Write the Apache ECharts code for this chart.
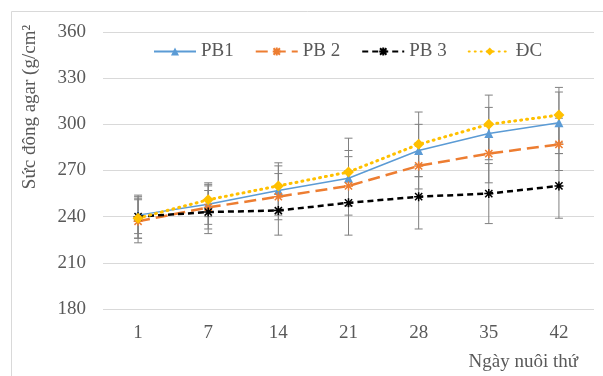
<!DOCTYPE html>
<html>
<head>
<meta charset="utf-8">
<script src="https://cdn.jsdelivr.net/npm/echarts@6/dist/echarts.min.js"></script>
<style>
  html, body { margin: 0; padding: 0; background: #fff; }
  #chart { width: 603px; height: 376px; }
</style>
</head>
<body>
<div id="chart"></div>
<script>
var days = ['1', '7', '14', '21', '28', '35', '42'];
var yTicks = [180, 210, 240, 270, 300, 330, 360];

var pb1 = [241, 248, 257, 265, 283, 294, 301];
var pb2 = [237, 246, 253, 260, 273, 281, 287];
var pb3 = [240, 243, 244, 249, 253, 255, 260];
var dc = [239, 251, 260, 269, 287, 300, 306];

var pb1Err = [12, 13, 16, 18, 17, 17, 20];
var pb2Err = [14, 14, 15, 19, 15, 19, 17];
var pb3Err = [14, 14, 16, 21, 21, 19.5, 21];
var dcErr = [13, 11, 15, 22, 21, 19, 18];

var textColor = '#595959';
var serif = 'Liberation Serif';
var starPath = 'path://M1,1L9,9M9,1L1,9M5,0L5,10M0,5L10,5';

function errData(vals, errs) {
	return vals.map(function (v, i) { return [i, v - errs[i], v + errs[i]]; });
}

function errSeries(vals, errs) {
	return {
		type: 'custom',
		z: 1,
		silent: true,
		data: errData(vals, errs),
		renderItem: function (params, api) {
			var lo = api.coord([api.value(0), api.value(1)]);
			var hi = api.coord([api.value(0), api.value(2)]);
			var w = 4;
			var st = { stroke: '#808080', lineWidth: 1 };
			return {
				type: 'group',
				children: [
					{ type: 'line', shape: { x1: hi[0], y1: hi[1], x2: lo[0], y2: lo[1] }, style: st },
					{ type: 'line', shape: { x1: hi[0] - w, y1: hi[1], x2: hi[0] + w, y2: hi[1] }, style: st },
					{ type: 'line', shape: { x1: lo[0] - w, y1: lo[1], x2: lo[0] + w, y2: lo[1] }, style: st }
				]
			};
		}
	};
}

var chart = echarts.init(document.getElementById('chart'));
chart.setOption({
	animation: false,
	backgroundColor: '#fff',
	grid: { left: 103, right: 9, top: 32, bottom: 67 },
	graphic: [
		{ type: 'rect', shape: { x: 11.5, y: 11.5, width: 640, height: 420 }, style: { fill: 'none', stroke: '#d9d9d9', lineWidth: 1 }, silent: true },
		{ type: 'text', x: 30, y: 107, rotation: Math.PI / 2, style: { text: 'Sức đông agar (g/cm²', font: '19px "Liberation Serif"', fill: textColor, align: 'center', verticalAlign: 'middle' } },
		{ type: 'text', x: 578, y: 362, style: { text: 'Ngày nuôi thứ', font: '19px "Liberation Serif"', fill: textColor, align: 'right', verticalAlign: 'middle' } }
	],
	legend: {
		data: ['PB1', 'PB 2', 'PB 3', 'ĐC'],
		left: 148,
		top: 37,
		itemWidth: 42,
		itemHeight: 10,
		itemGap: 21,
		textStyle: { fontFamily: serif, fontSize: 19, color: textColor }
	},
	xAxis: {
		type: 'category',
		data: days,
		axisLine: { show: false },
		axisTick: { show: false },
		axisLabel: { fontFamily: serif, fontSize: 19, color: textColor, margin: 15 }
	},
	yAxis: {
		type: 'value',
		min: yTicks[0],
		max: yTicks[yTicks.length - 1],
		interval: 30,
		axisLine: { show: false },
		axisTick: { show: false },
		splitLine: { lineStyle: { color: '#d9d9d9' } },
		axisLabel: { fontFamily: serif, fontSize: 19, color: textColor, margin: 17 }
	},
	series: [
		errSeries(pb1, pb1Err),
		errSeries(pb2, pb2Err),
		errSeries(pb3, pb3Err),
		errSeries(dc, dcErr),
		{
			name: 'PB1', type: 'line', data: pb1, z: 3,
			symbol: 'triangle', symbolSize: 9,
			lineStyle: { color: '#5B9BD5', width: 1.5 },
			itemStyle: { color: '#5B9BD5' }
		},
		{
			name: 'PB 2', type: 'line', data: pb2, z: 3,
			symbol: starPath, symbolSize: 9,
			lineStyle: { color: '#ED7D31', width: 2.5, type: [12, 6] },
			itemStyle: { color: '#ED7D31', borderColor: '#ED7D31', borderWidth: 1.5 }
		},
		{
			name: 'PB 3', type: 'line', data: pb3, z: 3,
			symbol: starPath, symbolSize: 9,
			lineStyle: { color: '#000000', width: 2.5, type: [6, 4] },
			itemStyle: { color: '#000000', borderColor: '#000000', borderWidth: 1.5 }
		},
		{
			name: 'ĐC', type: 'line', data: dc, z: 4,
			symbol: 'diamond', symbolSize: 11,
			lineStyle: { color: '#FFC000', width: 3, type: [1, 5], cap: 'round' },
			itemStyle: { color: '#FFC000' }
		}
	]
});
</script>
</body>
</html>
